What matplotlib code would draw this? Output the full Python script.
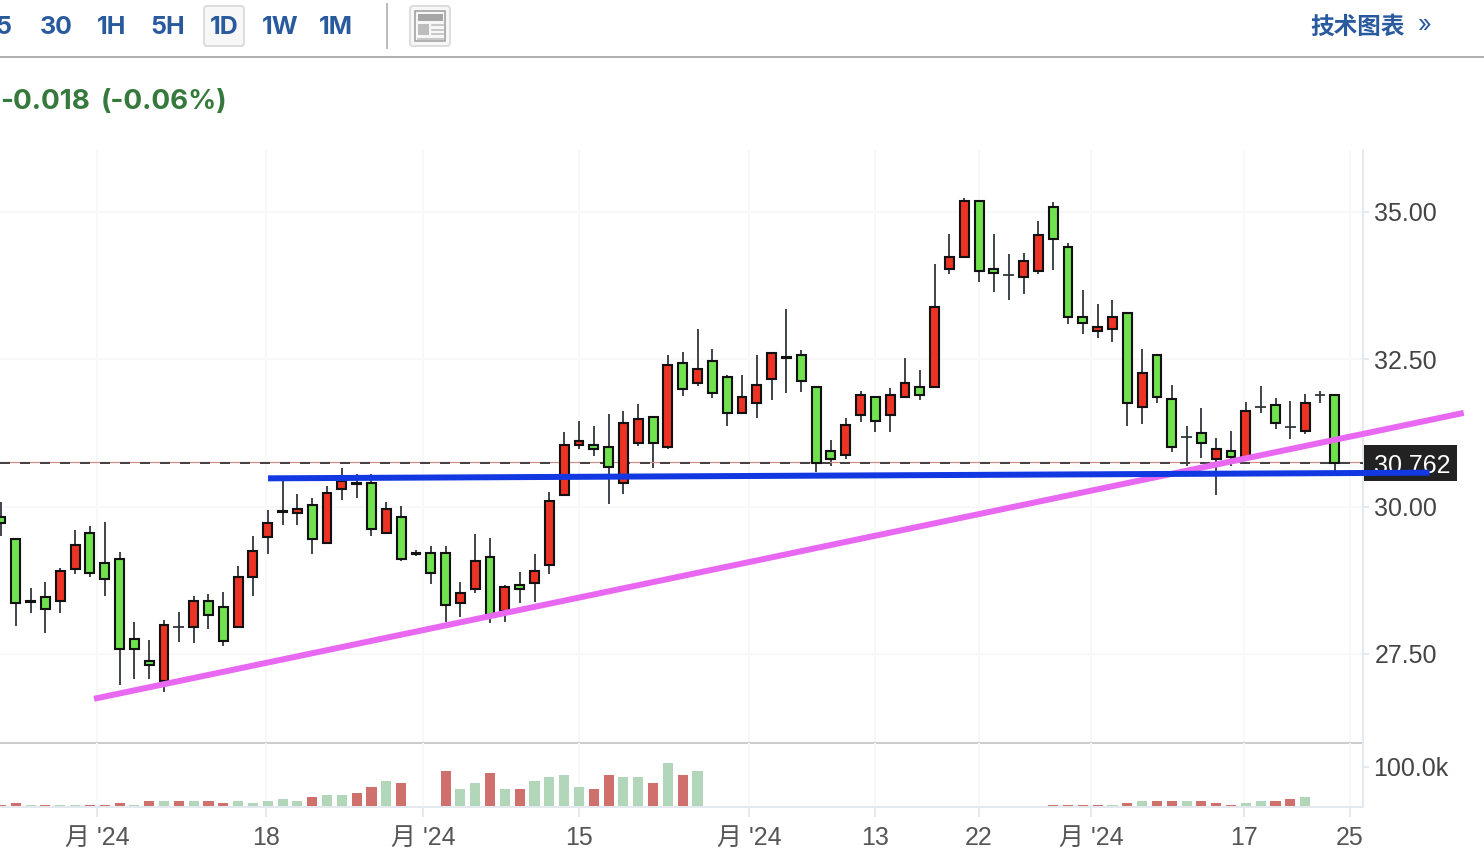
import matplotlib
matplotlib.use("Agg")
import matplotlib.pyplot as plt
from matplotlib.patches import Rectangle, FancyBboxPatch

W, H = 1484, 856
FONT = ['Liberation Sans', 'Noto Sans CJK SC', 'DejaVu Sans']
HEAD = ['Inter', 'Noto Sans CJK SC', 'DejaVu Sans']

opens = [29.83,29.45,28.38,28.47,28.40,28.94,29.55,29.05,29.11,27.76,27.38,27.05,27.96,27.96,28.40,28.30,27.96,28.81,29.49,29.91,
         29.89,30.03,29.38,30.30,30.40,30.40,29.55,29.83,29.21,29.22,29.22,28.37,28.61,29.15,28.23,28.67,28.71,29.01,30.20,31.05,
         31.05,31.01,30.40,31.08,31.52,31.01,32.44,32.10,32.47,32.20,31.59,31.76,32.16,32.52,32.57,32.03,30.94,30.88,31.55,31.86,
         31.55,31.86,32.03,32.03,34.03,34.23,35.18,34.03,33.93,33.89,33.99,35.08,34.40,33.22,32.98,33.01,33.28,31.69,32.57,31.83,
         31.18,31.25,30.81,30.94,30.84,31.69,31.72,31.35,31.28,31.89,31.89]
highs = [30.08,29.45,28.62,28.72,28.96,29.61,29.67,29.74,29.23,28.04,27.74,28.07,28.21,28.48,28.52,28.55,28.99,29.50,29.94,30.45,
         30.21,30.14,30.35,30.65,30.55,30.55,30.07,30.01,29.26,29.33,29.33,28.72,29.53,29.46,28.67,28.89,29.19,30.24,31.26,31.46,
         31.36,31.57,31.63,31.74,31.52,32.58,32.62,33.02,32.68,32.24,32.24,32.58,32.61,33.36,32.65,32.03,31.13,31.50,31.97,31.86,
         32.01,32.52,32.31,34.11,34.62,35.23,35.18,34.62,34.28,34.31,34.85,35.16,34.48,33.67,33.43,33.50,33.28,32.68,32.57,32.07,
         31.36,31.67,31.16,31.29,31.77,32.04,31.84,31.80,31.91,31.97,31.89]
lows = [29.50,27.98,28.19,27.85,28.19,28.86,28.80,28.49,26.97,27.07,27.07,26.86,27.71,27.68,27.92,27.64,27.96,28.49,29.20,29.68,
        29.68,29.20,29.38,30.12,30.15,29.51,29.55,29.07,29.17,28.69,28.05,28.12,28.53,28.02,28.05,28.36,28.39,28.86,30.20,30.97,
        30.86,30.05,30.22,31.03,30.66,30.97,31.88,32.05,31.85,31.37,31.59,31.51,31.81,31.92,31.95,30.59,30.69,30.80,31.44,31.27,
        31.27,31.86,31.81,32.03,33.95,34.23,33.81,33.64,33.51,33.61,33.95,34.02,33.10,32.93,32.86,32.80,31.37,31.41,31.75,30.93,
        30.69,30.83,30.19,30.69,30.84,31.58,31.31,31.14,31.24,31.75,30.61]
closes = [29.72,28.37,28.40,28.27,28.91,29.35,28.88,28.77,27.59,27.59,27.32,27.99,27.96,28.40,28.16,27.72,28.81,29.25,29.72,29.93,
          29.96,29.45,30.23,30.44,30.38,29.62,29.96,29.11,29.19,28.88,28.33,28.54,29.08,28.16,28.64,28.61,28.91,30.10,31.05,31.11,
          30.98,30.67,31.42,31.49,31.08,32.40,32.00,32.33,31.93,31.59,31.86,32.06,32.61,32.54,32.13,30.74,30.81,31.38,31.89,31.45,
          31.89,32.10,31.89,33.38,34.23,35.18,33.99,33.96,33.93,34.16,34.61,34.54,33.22,33.11,33.05,33.22,31.76,32.27,31.86,31.01,
          31.18,31.08,30.98,30.84,31.62,31.69,31.42,31.35,31.76,31.89,30.74]
volumes = [4,9,4,4,4,4,4,4,9,4,14,14,14,14,14,9,14,9,14,19,14,24,29,29,34,49,64,59,0,0,
           89,44,59,84,44,44,64,74,79,49,44,79,74,74,59,109,79,89,0,0,0,0,0,0,0,0,0,0,0,0,
           0,0,0,0,0,0,0,0,0,0,0,4,4,4,4,4,9,14,14,14,14,14,9,4,9,14,14,19,24,0,0]
volume_sides = "rrgrggrrrgrgrgrrgggggrggrrgr" + "rr" + "rggrgrggggrrggrgrg" + "r"*23 + "rrrrgrgrrgrrrggrrg" + "rr"

date_ticks = [6.47, 17.9, 28.5, 39.0, 50.5, 59.0, 66.0, 73.55, 83.9, 91.0]
date_labels = ["月 '24", "18", "月 '24", "15", "月 '24", "13", "22", "月 '24", "17", "25"]
price_ticks = [27.5, 30.0, 32.5, 35.0]
volume_ticks = [100]
blue_x, blue_y = [18.02, 96.4], [30.48, 30.576]
pink_x, pink_y = [6.28, 98.7], [26.74, 31.59]
last_price, dash_price = 30.762, 30.745
tool_labels = ["5", "30", "1H", "5H", "1D", "1W", "1M"]

GREEN, RED, WICK = "#6FE24E", "#EE3224", "#2E353B"
VOL_COL = {"r": "#CF706C", "g": "#B1D6BA"}
GRID, AXC = "#F8F8FA", "#E4E8EF"
BLUE_TXT = "#2A5A9E"
PX = 72 / 100

fig = plt.figure(figsize=(W / 100, H / 100), dpi=100, facecolor="white")


def axes_px(x0, y0, x1, y1, **kw):
    return fig.add_axes([x0 / W, 1 - y1 / H, (x1 - x0) / W, (y1 - y0) / H], **kw)


ov = axes_px(0, 0, W, H, zorder=1)
ov.set_xlim(0, W)
ov.set_ylim(H, 0)
ov.axis("off")

ax = axes_px(0, 150, 1362.5, 743, zorder=3)
vx = axes_px(0, 743, 1362.5, 807, zorder=3)
XLIM = (-0.067, 91.87)
for a in (ax, vx):
    a.patch.set_alpha(0)
    a.set_xlim(*XLIM)
    a.set_xticks(date_ticks)
    a.grid(True, color=GRID, lw=2 * PX, zorder=0)
    a.set_axisbelow(True)
    for s in ("top", "left"):
        a.spines[s].set_visible(False)
    a.spines["right"].set_color(AXC)
    a.spines["right"].set_linewidth(2 * PX)
    a.yaxis.tick_right()
ax.set_ylim(25.99, 36.05)
ax.spines["bottom"].set_color("#CCCCCC")
ax.spines["bottom"].set_linewidth(2 * PX)
ax.set_yticks(price_ticks, [f"{p:.2f}" for p in price_ticks], family=FONT, fontsize=18, color="#444444")
ax.tick_params(axis="y", length=6 * PX, width=2 * PX, color=AXC, pad=4.2, left=False)
ax.tick_params(axis="x", length=0, labelbottom=False)

vx.set_ylim(0, 160)
vx.spines["bottom"].set_color(AXC)
vx.spines["bottom"].set_linewidth(2 * PX)
vx.set_xticks(date_ticks, date_labels, family=FONT, fontsize=18, color="#555555")
vx.set_yticks(volume_ticks, ["100.0k"], family=FONT, fontsize=18, color="#444444")
vx.tick_params(axis="y", length=6 * PX, width=2 * PX, color=AXC, pad=3.6, left=False)
vx.tick_params(axis="x", length=10 * PX, width=2 * PX, color=AXC, pad=6.5)
vx.grid(False, axis="y")

idx = list(range(len(opens)))

# candles
ax.vlines(idx, lows, highs, color=WICK, lw=1.8 * PX, zorder=2)
for i, o, c in zip(idx, opens, closes):
    if o == c:
        ax.hlines(o, i - 0.36, i + 0.36, color=WICK, lw=1.8 * PX, zorder=3)
    else:
        ax.bar(i, abs(c - o), bottom=min(o, c), width=0.6,
               color=RED if c > o else GREEN, edgecolor="#111111", linewidth=2.1 * PX, zorder=3)

# price reference lines
ax.axhline(last_price, color="#D58A85", lw=1.2 * PX, zorder=2.5)
ax.axhline(dash_price, color="#444444", lw=2 * PX, dashes=(5, 5), zorder=2.6)

# trend lines
ax.plot(pink_x, pink_y, color="#E868F2", lw=6 * PX, solid_capstyle="butt", clip_on=False, zorder=5)
ax.plot(blue_x, blue_y, color="#1238E2", lw=6 * PX, solid_capstyle="butt", clip_on=False, zorder=6)

# volume
vx.bar(idx, volumes, width=0.68, color=[VOL_COL[s] for s in volume_sides], linewidth=0, zorder=2)

# last price tag
ov.add_patch(Rectangle((1362, 445), 95, 36, facecolor="#222222", edgecolor="none"))
ov.text(1412, 466, f"{last_price:.3f}", color="white", family=FONT, fontsize=18, ha="center", va="center")

# toolbar
for lab, x in zip(tool_labels, [3, 56, 112, 168, 224, 280, 336]):
    if lab == "1D":
        ov.add_patch(FancyBboxPatch((204, 6), 40, 40, boxstyle="round,pad=0,rounding_size=3",
                                    facecolor="#F7F7F7", edgecolor="#DDDDDD", lw=2 * PX))
    ov.text(x, 27.5, lab, color=BLUE_TXT, family=HEAD, fontsize=18, fontweight="bold", ha="center", va="center")
ov.plot([387, 387], [4, 48], color="#BBBBBB", lw=2 * PX)
ov.plot([0, W], [57, 57], color="#B0B0B0", lw=2 * PX)
ov.add_patch(FancyBboxPatch((410, 6), 40, 40, boxstyle="round,pad=0,rounding_size=3",
                            facecolor="#F7F7F7", edgecolor="#DDDDDD", lw=2 * PX))
ov.add_patch(Rectangle((415, 11), 30, 30, facecolor="none", edgecolor="#A0A0A0", lw=1.6 * PX))
ov.add_patch(Rectangle((418, 14), 25, 7, facecolor="#A6A6A6", edgecolor="none"))
ov.add_patch(Rectangle((418, 24), 11, 11, facecolor="#BDBDBD", edgecolor="none"))
for yy in (24.5, 29.5, 34):
    ov.plot([432, 443], [yy, yy], color="#BDBDBD", lw=1.6 * PX)
ov.plot([418, 443], [38.5, 38.5], color="#BDBDBD", lw=1.6 * PX)

ov.text(1358, 27, "技术图表", color=BLUE_TXT, family=['Noto Sans CJK SC', 'DejaVu Sans'], fontsize=17,
        fontweight="bold", ha="center", va="center")
ov.text(1424, 26, "»", color=BLUE_TXT, family=HEAD, fontsize=17, ha="center", va="center")
ov.text(0, 102, "-0.018", color="#357A3C", family=HEAD, fontsize=20, fontweight="bold", ha="left", va="center")
ov.text(101, 102, "(-0.06%)", color="#357A3C", family=HEAD, fontsize=20, fontweight="bold", ha="left", va="center")

fig.savefig("out.png", dpi=100)
